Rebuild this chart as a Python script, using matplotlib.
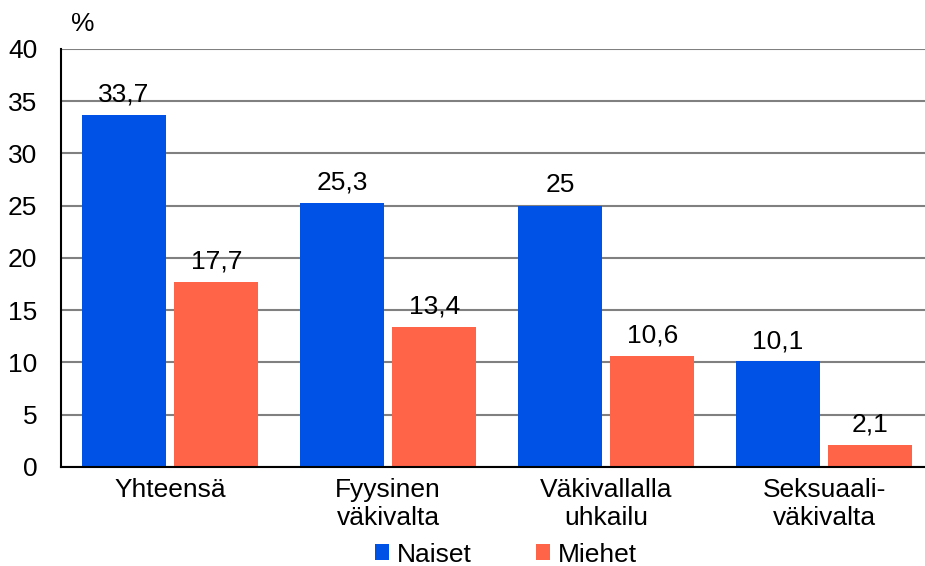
import matplotlib.pyplot as plt
import numpy as np

plt.rcParams['font.family'] = ['Liberation Sans', 'DejaVu Sans']

categories = ['Yhteensä', 'Fyysinen\nväkivalta', 'Väkivallalla\nuhkailu', 'Seksuaali-\nväkivalta']
naiset = [33.7, 25.3, 25, 10.1]
miehet = [17.7, 13.4, 10.6, 2.1]
naiset_labels = ['33,7', '25,3', '25', '10,1']
miehet_labels = ['17,7', '13,4', '10,6', '2,1']

blue = '#0052E6'
red = '#FF6449'
fs = 19

fig = plt.figure(figsize=(9.25, 5.66), dpi=100)
ax = fig.add_axes([0.066, 0.175, 0.934, 0.7385])

x = np.arange(len(categories))
w = 0.385
b1 = ax.bar(x - 0.212, naiset, w, color=blue, label='Naiset', zorder=3)
b2 = ax.bar(x + 0.212, miehet, w, color=red, label='Miehet', zorder=3)

for bars, labs in [(b1, naiset_labels), (b2, miehet_labels)]:
    for bar, lab in zip(bars, labs):
        ax.annotate(lab, (bar.get_x() + bar.get_width() / 2, bar.get_height()),
                    xytext=(0, 6), textcoords='offset points',
                    ha='center', va='bottom', fontsize=fs)

ax.set_xlim(-0.5, 3.463)
ax.set_ylim(0, 40)
ax.set_yticks(range(0, 41, 5))
ax.set_xticks(x)
ax.set_xticklabels(categories)
ax.tick_params(axis='y', length=0, pad=17, labelsize=fs)
ax.tick_params(axis='x', length=0, pad=8, labelsize=fs)
ax.yaxis.grid(True, color='#808080', linewidth=1.5, zorder=0)
ax.set_axisbelow(True)
for s in ['top', 'right']:
    ax.spines[s].set_visible(False)
ax.spines['left'].set_linewidth(1.5)
ax.spines['bottom'].set_linewidth(1.5)
ax.spines['bottom'].set_zorder(4)

# "%" unit label above the y axis
ax.text(0.012, 1.03, '%', transform=ax.transAxes, fontsize=fs, ha='left', va='bottom')

fig.legend(loc='center', bbox_to_anchor=(0.547, 0.02), ncol=2, frameon=False,
           fontsize=fs, handlelength=0.55, handleheight=0.55, handletextpad=0.3,
           columnspacing=2.4)

fig.savefig('out.png', dpi=100)
